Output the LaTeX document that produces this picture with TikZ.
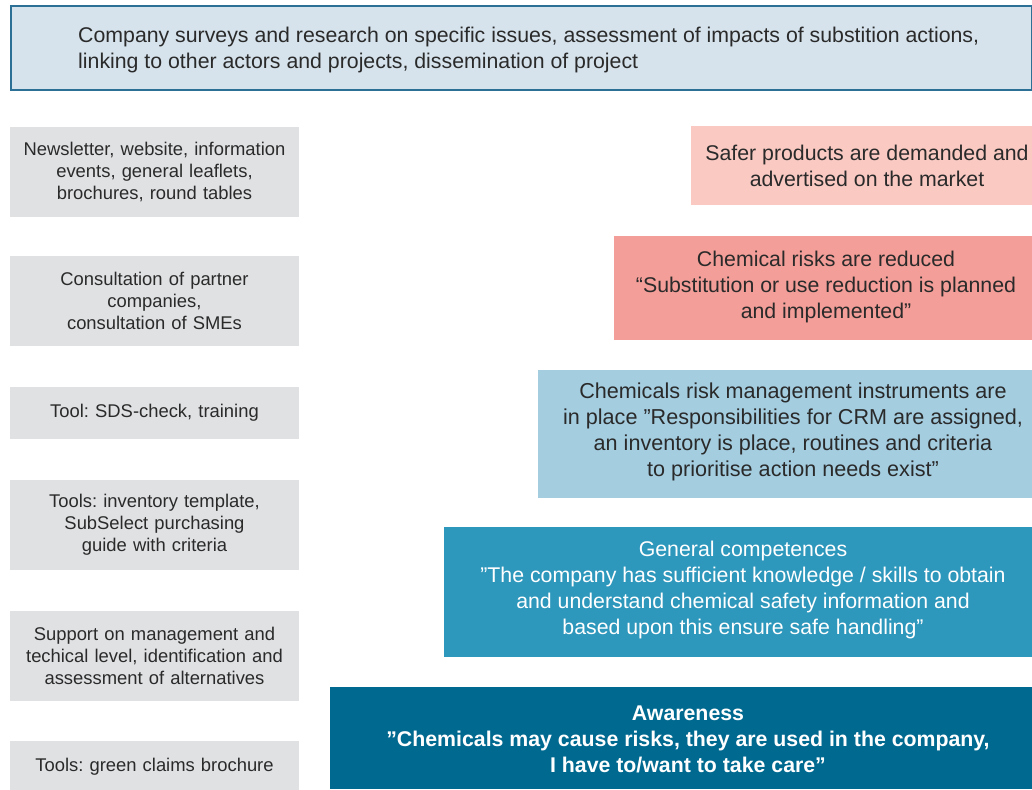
\documentclass[tikz,border=0pt]{standalone}
\usepackage{fontspec}
\setmainfont{Liberation Sans}
\frenchspacing
\definecolor{topfill}{HTML}{D6E3EC}
\definecolor{topline}{HTML}{2C7096}
\definecolor{actgray}{HTML}{E0E1E3}
\definecolor{txtgray}{HTML}{2A2A2A}
\definecolor{pinkA}{HTML}{F9C9C2}
\definecolor{pinkB}{HTML}{F39E98}
\definecolor{blueA}{HTML}{A4CDE0}
\definecolor{blueB}{HTML}{2E97BC}
\definecolor{blueC}{HTML}{006990}
\tikzset{
	activity/.style={fill=actgray, inner sep=0pt, minimum width=289pt, text width=285pt,
		align=center, text=txtgray, font=\fontsize{18.4}{22}\selectfont},
	level/.style={inner sep=0pt, align=center, text=txtgray, font=\fontsize{21.3}{26}\selectfont}
}
\begin{document}
\begin{tikzpicture}[x=1pt,y=-1pt]
	\useasboundingbox (0,0) rectangle (1032,789);
	% Top bar
	\node (survey) [draw=topline, line width=2pt, fill=topfill, anchor=north west, inner sep=0pt,
		minimum width=1021pt, minimum height=84pt] at (10,5) {};
	\node (surveytxt) [anchor=west, align=left, text=txtgray, inner sep=0pt,
		font=\fontsize{21.3}{26}\selectfont] at (78,50)
		{Company surveys and research on specific issues, assessment of impacts of substition actions,\\
		linking to other actors and projects, dissemination of project};
	
	% Activities (left column)
	\node (newsletter) [activity, minimum height=90pt] at (154.5,172) {Newsletter, website, information\\events, general leaflets,\\brochures, round tables};
	\node (consult) [activity, minimum height=90pt] at (154.5,301) {Consultation of partner\\companies,\\consultation of SMEs};
	\node (sds) [activity, minimum height=52pt] at (154.5,413) {Tool: SDS-check, training};
	\node (inventory) [activity, minimum height=90pt] at (154.5,525) {Tools: inventory template,\\SubSelect purchasing\\ guide with criteria};
	\node (support) [activity, minimum height=90pt] at (154.5,656) {Support on management and\\techical level, identification and\\ assessment of alternatives};
	\node (green) [activity, minimum height=52pt] at (154.5,767) {Tools: green claims brochure};
	
	% Levels (right column)
	\fill [pinkA] (691,126) rectangle (1032,205);
	\node (safer) [level] at (867,166) {Safer products are demanded and\\advertised on the market};
	
	\fill [pinkB] (614,236) rectangle (1032,340);
	\node (risks) [level] at (826,287) {Chemical risks are reduced\\“Substitution or use reduction is planned\\and implemented”};
	
	\fill [blueA] (538,370) rectangle (1032,498);
	\node (crm) [level, font=\fontsize{21.6}{26}\selectfont] at (793,432) {Chemicals risk management instruments are\\in place ”Responsibilities for CRM are assigned,\\an inventory is place, routines and criteria\\to prioritise action needs exist”};
	
	\fill [blueB] (444,527) rectangle (1032,657);
	\node (competence) [level, text=white] at (743,590) {General competences\\”The company has sufficient knowledge / skills to obtain\\and understand chemical safety information and\\based upon this ensure safe handling”};
	
	\fill [blueC] (330,687) rectangle (1032,789);
	\node (awareness) [level, text=white, font=\bfseries\fontsize{21.3}{26}\selectfont] at (688,739) {Awareness\\”Chemicals may cause risks, they are used in the company,\\I have to/want to take care”};
\end{tikzpicture}
\end{document}
